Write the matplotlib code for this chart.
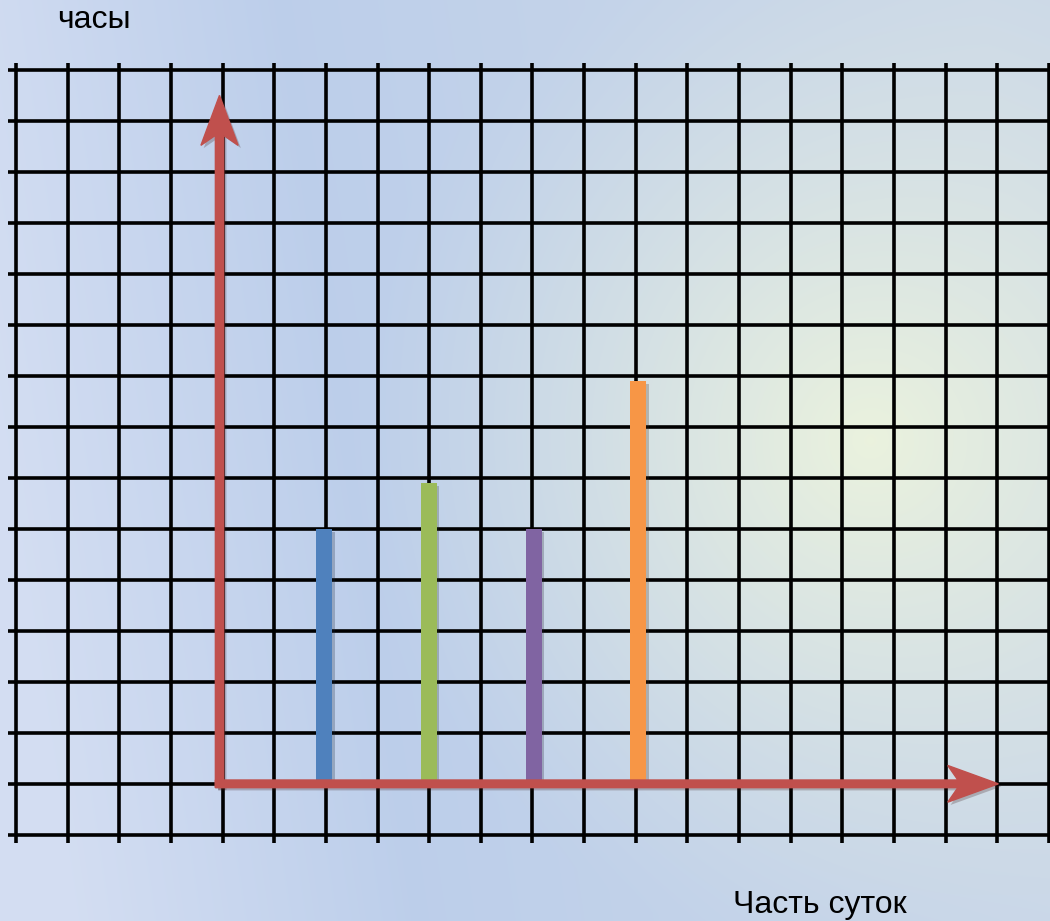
import numpy as np
import matplotlib
matplotlib.use("Agg")
import matplotlib.pyplot as plt
import matplotlib.patheffects as pe

# данные
parts = ["утро", "день", "вечер", "ночь"]
bar_x = [2.02, 4.05, 6.08, 8.1]
hours = [5, 5.9, 5, 7.9]
bar_colors = ["#4f81bd", "#9bbb59", "#8064a2", "#f79646"]
ylabel = "часы"
xlabel = "Часть суток"

red = "#c0504d"

fig = plt.figure(figsize=(10.5, 9.21), dpi=100)
ax = fig.add_axes([0, 0, 1, 1])
x0, x1 = -4.25, 16.08
y0, y1 = -2.69, 15.37
ax.set_xlim(x0, x1)
ax.set_ylim(y0, y1)
ax.axis("off")

# фон: голубой градиент со светлым пятном справа
W, H = 1050, 921
xx, yy = np.meshgrid(np.arange(W), np.arange(H))
c_left = np.array([0.83, 0.87, 0.95])
c_mid = np.array([0.74, 0.81, 0.92])
c_right = np.array([0.80, 0.85, 0.91])
t = np.clip((xx - 0.15 * (yy - H / 2)) / W, 0, 1)
img = np.where(t[..., None] < 0.33,
               c_left + (c_mid - c_left) * (t[..., None] / 0.33),
               c_mid + (c_right - c_mid) * ((t[..., None] - 0.33) / 0.67))
r = np.sqrt((xx - 870) ** 2 + (yy - 440) ** 2)
glow = np.clip(1 - r / 520, 0, 1) ** 1.3
c_glow = np.array([0.92, 0.95, 0.87])
img = img * (1 - glow[..., None]) + c_glow * glow[..., None]
ax.imshow(img, extent=[x0, x1, y0, y1], aspect="auto", zorder=0)

# сетка
for k in range(21):
    ax.plot([k - 3.94, k - 3.94], [-1.17, 14.13], color="black", lw=2.6,
            zorder=1, solid_capstyle="butt")
for j in range(-1, 15):
    ax.plot([-4.09, x1], [j, j], color="black", lw=2.6, zorder=1,
            solid_capstyle="butt")

shadow = [pe.SimplePatchShadow(offset=(2, -2), alpha=0.25), pe.Normal()]

# столбики
bars = ax.bar(bar_x, hours, width=0.31, color=bar_colors, zorder=3)
for b in bars:
    b.set_path_effects(shadow)

# оси со стрелками
a1 = ax.arrow(0, -0.07, 0, 13.57, width=0.16, head_width=0.72, head_length=0.98,
              length_includes_head=True, overhang=0.2, color=red, zorder=4)
a2 = ax.arrow(-0.08, 0, 15.16, 0, width=0.15, head_width=0.72, head_length=0.98,
              length_includes_head=True, overhang=0.2, color=red, zorder=4)
a1.set_path_effects(shadow)
a2.set_path_effects(shadow)

fig.text(57 / W, 1 - 28 / H, ylabel, fontsize=23, family=["Liberation Sans", "DejaVu Sans"],
         va="baseline", ha="left", color="black")
fig.text(733 / W, 1 - 913 / H, xlabel, fontsize=23, family=["Liberation Sans", "DejaVu Sans"],
         va="baseline", ha="left", color="black")

fig.savefig("out.png", dpi=100)
